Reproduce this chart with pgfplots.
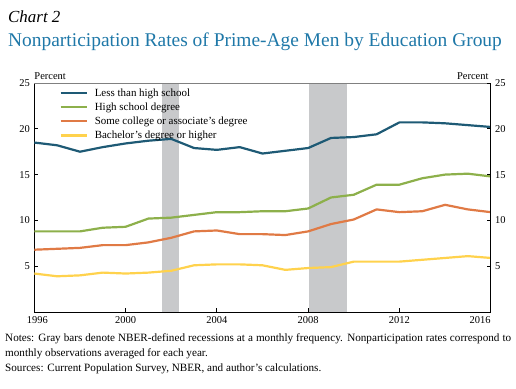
\documentclass[border=0pt]{standalone}
\usepackage{pgfplots}
\pgfplotsset{compat=1.18}
\usepackage{fontspec}
\setmainfont{Liberation Serif}
\definecolor{cblue}{HTML}{1E5A75}
\definecolor{cgreen}{HTML}{8DB04B}
\definecolor{corange}{HTML}{E07A45}
\definecolor{cyellow}{HTML}{FFD24D}
\definecolor{crec}{HTML}{C8C9CB}
\definecolor{ctitle}{HTML}{1F78A8}
\pgfplotstableread{
year lths hs some ba
1996 18.5 8.8 6.8 4.2
1997 18.2 8.8 6.9 3.9
1998 17.5 8.8 7.0 4.0
1999 18.0 9.2 7.3 4.3
2000 18.4 9.3 7.3 4.2
2001 18.7 10.2 7.6 4.3
2002 18.9 10.3 8.1 4.5
2003 17.9 10.6 8.8 5.1
2004 17.7 10.9 8.9 5.2
2005 18.0 10.9 8.5 5.2
2006 17.3 11.0 8.5 5.1
2007 17.6 11.0 8.4 4.6
2008 17.9 11.3 8.8 4.8
2009 19.0 12.5 9.6 4.9
2010 19.1 12.8 10.1 5.5
2011 19.4 13.9 11.2 5.5
2012 20.7 13.9 10.9 5.5
2013 20.7 14.6 11.0 5.7
2014 20.6 15.0 11.7 5.9
2015 20.4 15.1 11.2 6.1
2016 20.2 14.8 10.9 5.9
}\datatable
\begin{document}
\begin{tikzpicture}[x=1bp,y=1bp]
\path[use as bounding box] (0,0) rectangle (516,388);
\node[anchor=base west, inner sep=0pt, font=\fontsize{17}{19}\selectfont\itshape] at (8,365.3) {Chart 2};
\node[anchor=base west, inner sep=0pt, font=\fontsize{19.5}{22}\selectfont, text=ctitle] at (8,341.3) {Nonparticipation Rates of Prime-Age Men by Education Group};
\begin{axis}[
  at={(34.3bp,76bp)}, anchor=south west,
  scale only axis, width=456.4bp, height=229bp,
  xmin=1996, xmax=2016, ymin=0, ymax=25,
  axis x line*=bottom, axis y line*=left,
  axis line style={line width=0.8bp, -},
  xtick={2000,2004,2008,2012},
  x tick label style={/pgf/number format/1000 sep={}, yshift=-1bp},
  ytick={5,10,15,20,25},
  tick align=inside, major tick length=4bp,
  tick style={line width=0.8bp, black},
  /pgf/number format/assume math mode=true,
  ticklabel style={font=\fontsize{10.5}{12}\selectfont},
  yticklabel style={xshift=-1bp},
  legend cell align=left,
  legend style={at={(axis description cs:0.055,0.985)}, anchor=north west, draw=none, fill=none,
    font=\fontsize{11}{12}\selectfont, row sep=1.0bp, column sep=5bp, inner sep=0pt},
  legend image code/.code={\draw[#1] (0bp,0bp) -- (26bp,0bp);},
  clip=false,
]
\addplot[fill=crec, draw=none, forget plot] coordinates {(2001.58,0) (2001.58,25) (2002.35,25) (2002.35,0)} -- cycle;
\addplot[fill=crec, draw=none, forget plot] coordinates {(2008.02,0) (2008.02,25) (2009.70,25) (2009.70,0)} -- cycle;
\addplot[cblue, line width=2.2bp] table[x=year,y=lths] {\datatable};
\addlegendentry{Less than high school}
\addplot[cgreen, line width=2.2bp] table[x=year,y=hs] {\datatable};
\addlegendentry{High school degree}
\addplot[corange, line width=2.2bp] table[x=year,y=some] {\datatable};
\addlegendentry{Some college or associate's degree}
\addplot[cyellow, line width=2.2bp] table[x=year,y=ba] {\datatable};
\addlegendentry{Bachelor's degree or higher}
\draw[gray, line width=0.8bp] (rel axis cs:0,1) -- (rel axis cs:1,1);
\node[anchor=base west, inner sep=0pt, font=\fontsize{10.5}{12}\selectfont] at ([yshift=3bp]rel axis cs:0,1) {Percent};
\node[anchor=base east, inner sep=0pt, font=\fontsize{10.5}{12}\selectfont] at ([xshift=-2bp,yshift=3bp]rel axis cs:1,1) {Percent};
\node[anchor=north, inner sep=0pt, font=\fontsize{10.5}{12}\selectfont] at ([xshift=3bp,yshift=-4bp]rel axis cs:0,0) {1996};
\node[anchor=north east, inner sep=0pt, font=\fontsize{10.5}{12}\selectfont] at ([yshift=-4bp]rel axis cs:1,0) {2016};
\end{axis}
\begin{axis}[
  at={(34.3bp,76bp)}, anchor=south west,
  scale only axis, width=456.4bp, height=229bp,
  xmin=1996, xmax=2016, ymin=0, ymax=25,
  axis x line=none, axis y line*=right,
  axis line style={line width=0.8bp, -},
  ytick={5,10,15,20,25},
  tick align=inside, major tick length=4bp,
  tick style={line width=0.8bp, black},
  /pgf/number format/assume math mode=true,
  ticklabel style={font=\fontsize{10.5}{12}\selectfont},
  yticklabel style={xshift=1bp},
]
\end{axis}
\node[anchor=base west, inner sep=0pt, font=\fontsize{11.2}{13}\selectfont] at (5,47) {\makebox[506bp][s]{Notes: Gray bars denote NBER-defined recessions at a monthly frequency. Nonparticipation rates correspond to}};
\node[anchor=base west, inner sep=0pt, font=\fontsize{11.2}{13}\selectfont] at (5,32) {monthly observations averaged for each year.};
\node[anchor=base west, inner sep=0pt, font=\fontsize{11.2}{13}\selectfont] at (5,17) {Sources: Current Population Survey, NBER, and author's calculations.};
\end{tikzpicture}
\end{document}
